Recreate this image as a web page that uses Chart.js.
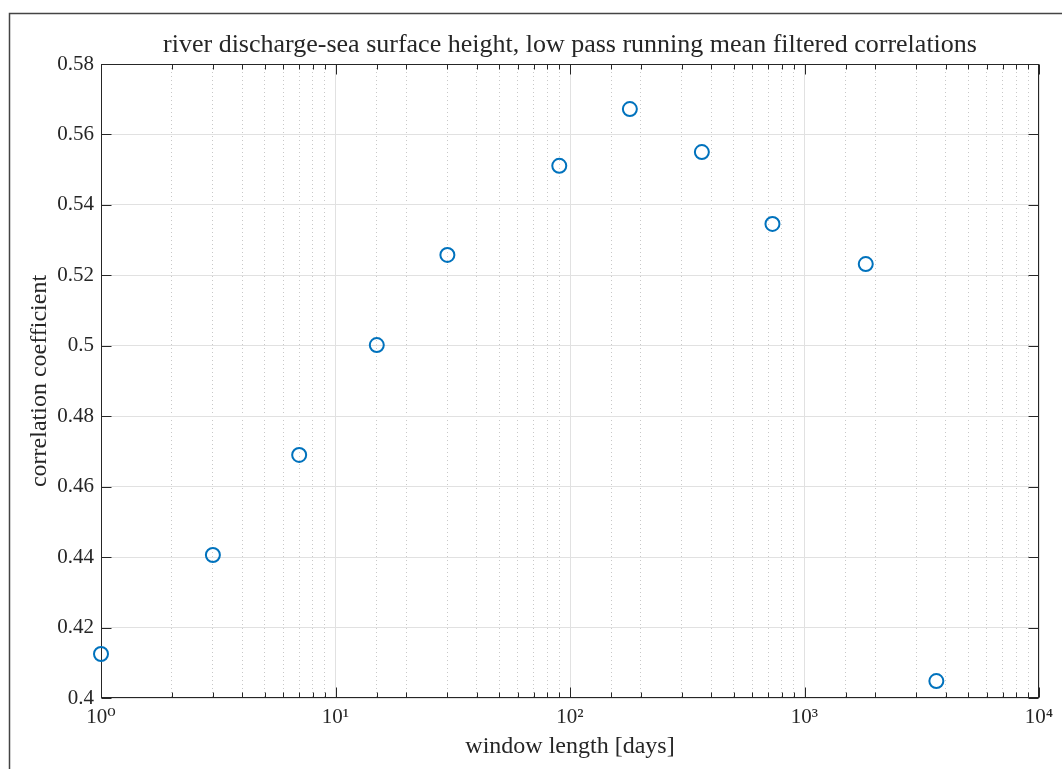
<!DOCTYPE html>
<html>
<head>
<meta charset="utf-8">
<script src="https://cdn.jsdelivr.net/npm/chart.js@4.4.0/dist/chart.umd.min.js"></script>
<style>
  html, body { margin: 0; padding: 0; background: #fff; }
</style>
</head>
<body>
<canvas id="corrChart" width="1062" height="769"></canvas>
<script>
//data section
const windowDays = [1, 3, 7, 15, 30, 90, 180, 365, 730, 1825, 3650];
const corrCoef = [0.4125, 0.4406, 0.469, 0.5002, 0.5258, 0.5511, 0.5672, 0.555, 0.5346, 0.5232, 0.4048];
const xDecades = [1, 10, 100, 1000, 10000];
const xDecadeLabels = ['10\u2070', '10\u00b9', '10\u00b2', '10\u00b3', '10\u2074'];
const yTickValues = [0.4, 0.42, 0.44, 0.46, 0.48, 0.5, 0.52, 0.54, 0.56, 0.58];

const chartTitle = 'river discharge-sea surface height, low pass running mean filtered correlations';
const xTitle = 'window length [days]';
const yTitle = 'correlation coefficient';

//look
const axisColor = '#262626';
const markerColor = '#0072BD';
const serif = "'Liberation Serif', 'DejaVu Serif', serif";

const isDecade = (v) => Math.abs(Math.log10(v) - Math.round(Math.log10(v))) < 1e-9;

//matlab style box, inward ticks and figure frame
const matlabBox = {
    id: 'matlabBox',
    beforeDraw(chart) {
        const ctx = chart.ctx;
        ctx.save();
        ctx.strokeStyle = '#444';
        ctx.lineWidth = 1.5;
        ctx.strokeRect(9.5, 13.5, 1200, 900);
        ctx.restore();
    },
    beforeDatasetsDraw(chart) {
        const { ctx, chartArea: a, scales: { x, y } } = chart;
        const L = Math.round(a.left) + 0.5;
        const R = Math.round(a.right) - 0.5;
        const T = Math.round(a.top) + 0.5;
        const B = Math.round(a.bottom) - 0.5;
        ctx.save();
        ctx.strokeStyle = axisColor;
        ctx.lineWidth = 1;
        ctx.beginPath();
        x.ticks.forEach(t => {
            const px = Math.round(x.getPixelForValue(t.value)) + 0.5;
            const len = isDecade(t.value) ? 10 : 5;
            ctx.moveTo(px, B); ctx.lineTo(px, B - len);
            ctx.moveTo(px, T); ctx.lineTo(px, T + len);
        });
        yTickValues.forEach(v => {
            const py = Math.round(y.getPixelForValue(v)) + 0.5;
            ctx.moveTo(L, py); ctx.lineTo(L + 10, py);
            ctx.moveTo(R, py); ctx.lineTo(R - 10, py);
        });
        ctx.stroke();
        ctx.strokeRect(L, T, R - L, B - T);
        ctx.restore();
    }
};

const corrGraph = () => {
    var ctx = document.getElementById('corrChart').getContext('2d');
    var chart = new Chart(ctx, {
        type: 'scatter',
        data: {
            datasets: [{
                label: 'corr',
                data: windowDays.map((d, i) => ({ x: d, y: corrCoef[i] })),
                pointStyle: 'circle',
                pointRadius: 7,
                pointHoverRadius: 7,
                borderWidth: 2,
                borderColor: markerColor,
                backgroundColor: 'rgba(0,0,0,0)',
                clip: false
            }]
        },
        options: {
            responsive: false,
            animation: false,
            events: [],
            layout: {
                padding: { left: 0, right: 23, top: 0, bottom: 0 }
            },
            plugins: {
                legend: { display: false },
                tooltip: { enabled: false },
                title: {
                    display: true,
                    fullSize: false,
                    text: chartTitle,
                    color: axisColor,
                    font: { family: serif, size: 26, weight: 'normal' },
                    padding: { top: 29.4, bottom: 3.4 }
                }
            },
            scales: {
                x: {
                    type: 'logarithmic',
                    min: 1,
                    max: 10000,
                    afterFit: (s) => { s.height = 71; },
                    border: {
                        display: false,
                        dash: (c) => (c.tick && isDecade(c.tick.value)) ? [] : [1, 3]
                    },
                    grid: {
                        drawTicks: false,
                        color: (c) => (c.tick && isDecade(c.tick.value)) ? '#e1e1e1' : '#c8c8c8',
                        lineWidth: 1
                    },
                    ticks: {
                        autoSkip: false,
                        maxRotation: 0,
                        padding: 7,
                        color: axisColor,
                        font: { family: serif, size: 21 },
                        callback: (v) => {
                            const k = xDecades.indexOf(v);
                            return k >= 0 ? xDecadeLabels[k] : '';
                        }
                    },
                    title: {
                        display: true,
                        text: xTitle,
                        color: axisColor,
                        font: { family: serif, size: 24 },
                        padding: { top: 0, bottom: 7.6 }
                    }
                },
                y: {
                    min: 0.4,
                    max: 0.58,
                    afterFit: (s) => { s.width = 101; },
                    afterBuildTicks: (s) => { s.ticks = yTickValues.map(v => ({ value: v })); },
                    border: { display: false },
                    grid: {
                        drawTicks: false,
                        color: '#e1e1e1',
                        lineWidth: 1
                    },
                    ticks: {
                        padding: 7,
                        color: axisColor,
                        font: { family: serif, size: 21 },
                        callback: (v) => String(parseFloat(v.toFixed(2)))
                    },
                    title: {
                        display: true,
                        text: yTitle,
                        color: axisColor,
                        font: { family: serif, size: 24 },
                        padding: { top: 25.6, bottom: 0 }
                    }
                }
            }
        },
        plugins: [matlabBox]
    });
};
corrGraph()
</script>
</body>
</html>
